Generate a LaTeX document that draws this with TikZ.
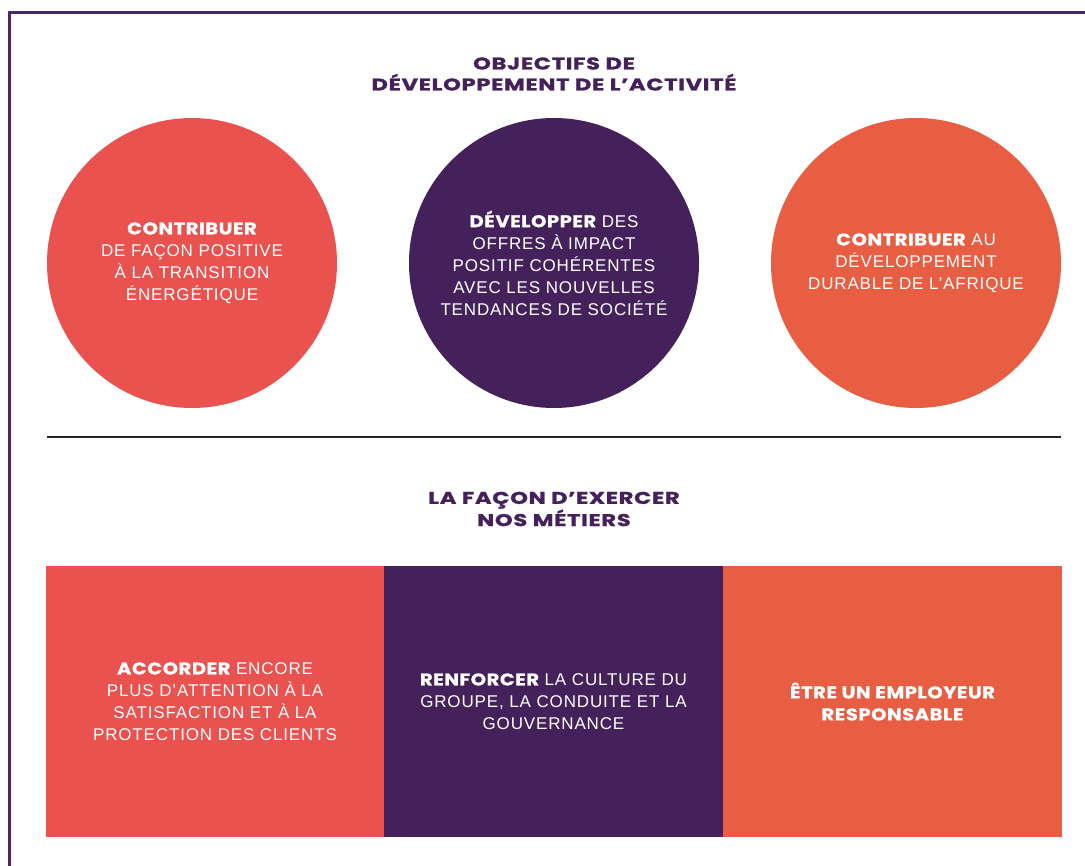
\documentclass[tikz,border=0pt]{standalone}
\usepackage{fontspec}
\setmainfont{Liberation Sans}[LetterSpace=5]
\newfontfamily\headfont[FakeStretch=1.33, LetterSpace=4, FakeBold=1.2]{Poppins}
\newfontfamily\boldfont[FakeStretch=1.15, LetterSpace=3, FakeBold=0.8]{Poppins}

\definecolor{coral}{HTML}{E9524F}
\definecolor{plum}{HTML}{45215B}
\definecolor{tangerine}{HTML}{E85E42}
\definecolor{framepurple}{HTML}{4B2766}

\newcommand{\bodytext}{\fontsize{17}{22}\selectfont}
\newcommand{\headtext}{\headfont\bfseries\fontsize{17}{21}\selectfont}
\newcommand{\hb}[1]{{\boldfont\bfseries #1}}

\begin{document}
\begin{tikzpicture}[x = 1pt, y = -1pt,
                    disc/.style = {circle, fill = #1, minimum size = 290pt, inner sep = 0pt,
                                   text = white, align = center, font = \bodytext},
                    block/.style = {rectangle, fill = #1, minimum width = 339pt, minimum height = 271pt,
                                    inner sep = 0pt, text = white, align = center, font = \bodytext},
                    heading/.style = {text = plum, align = center, font = \headtext}]
      \useasboundingbox (0, 0) rectangle (1085, 866);
      \draw [framepurple, line width = 3pt] (1085, 13) -- (9.5, 13) -- (9.5, 866);

      \node [heading] (t1) at (554, 74){OBJECTIFS DE\\DÉVELOPPEMENT DE L’ACTIVITÉ};

      \node [disc = coral] (c1) at (192, 263){\hb{CONTRIBUER}\\DE FAÇON POSITIVE\\À LA TRANSITION\\ÉNERGÉTIQUE};
      \node [disc = plum] (c2) at (554, 263){\hb{DÉVELOPPER} DES\\OFFRES À IMPACT\\POSITIF COHÉRENTES\\AVEC LES NOUVELLES\\TENDANCES DE SOCIÉTÉ};
      \node [disc = tangerine] (c3) at (916, 263){\hb{CONTRIBUER} AU\\DÉVELOPPEMENT\\DURABLE DE L’AFRIQUE};

      \draw [black!85, line width = 1.5pt] (47, 437) -- (1061, 437);

      \node [heading] (t2) at (554, 509){LA FAÇON D’EXERCER\\NOS MÉTIERS};

      \node [block = coral] (b1) at (215, 701.5){\hb{ACCORDER} ENCORE\\PLUS D’ATTENTION À LA\\SATISFACTION ET À LA\\PROTECTION DES CLIENTS};
      \node [block = plum] (b2) at (553.5, 701.5){\hb{RENFORCER} LA CULTURE DU\\GROUPE, LA CONDUITE ET LA\\GOUVERNANCE};
      \node [block = tangerine] (b3) at (892.5, 701.5){\hb{ÊTRE UN EMPLOYEUR}\\\hb{RESPONSABLE}};
    \end{tikzpicture}
\end{document}
